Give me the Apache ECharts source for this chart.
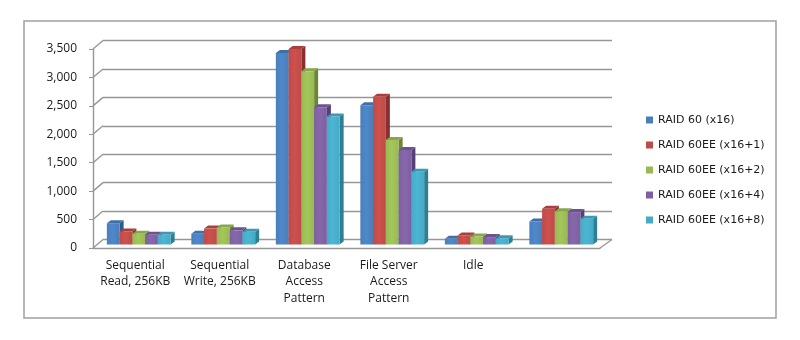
<!DOCTYPE html>
<html>
<head>
<meta charset="utf-8">
<script src="https://cdn.jsdelivr.net/npm/echarts@6/dist/echarts.min.js"></script>
<style>
  html, body { margin: 0; padding: 0; background: #ffffff; }
  #chart { width: 800px; height: 340px; }
</style>
</head>
<body>
<div id="chart"></div>
<script>
// Workload categories along the floor of the chart
const categories = [
  'Sequential\nRead, 256KB',
  'Sequential\nWrite, 256KB',
  'Database\nAccess\nPattern',
  'File Server\nAccess\nPattern',
  'Idle',
  ''
];

// One array per RAID configuration
const raid60_x16     = [375, 190, 3370, 2450, 100, 405];
const raid60ee_x16p1 = [230, 280, 3440, 2600, 160, 630];
const raid60ee_x16p2 = [190, 300, 3045, 1840, 140, 585];
const raid60ee_x16p4 = [170, 250, 2415, 1660, 130, 570];
const raid60ee_x16p8 = [170, 225, 2250, 1280, 110, 455];

const seriesNames = [
  'RAID 60 (x16)',
  'RAID 60EE (x16+1)',
  'RAID 60EE (x16+2)',
  'RAID 60EE (x16+4)',
  'RAID 60EE (x16+8)'
];
const seriesValues = [raid60_x16, raid60ee_x16p1, raid60ee_x16p2, raid60ee_x16p4, raid60ee_x16p8];

// Value axis ticks
const yTicks = [0, 500, 1000, 1500, 2000, 2500, 3000, 3500];

// Face colours: front, side (shaded), top
const faceColors = [
  { front: '#4A7EBB', side: '#2F5A8C', top: '#3F6FA8' },
  { front: '#BE4B48', side: '#8A2F2D', top: '#A8403D' },
  { front: '#98B954', side: '#6B8734', top: '#88A74A' },
  { front: '#7D60A0', side: '#553F75', top: '#6E5290' },
  { front: '#46AAC5', side: '#2C7F96', top: '#3D98B1' }
];

// 3-D look: bars sit a little behind the front edge, walls further back
const BAR_OX = 3.5, BAR_OY = -3.5;   // bar front plane offset
const DEPTH_X = 4, DEPTH_Y = -3;      // bar depth
const WALL_DX = 10, WALL_DY = -8.5;   // back wall offset (left)
const WALL_DX_R = 12;                 // back wall offset (right)
const LINE_COLOR = '#979797';
const LINE_WIDTH = 1.4;

const chart = echarts.init(document.getElementById('chart'), null, { renderer: 'canvas' });

function makeBarRenderer(k) {
  const c = faceColors[k];
  return function (params, api) {
    const idx = api.value(0);
    const val = api.value(1);
    const base = api.coord([idx, 0]);
    const topPt = api.coord([idx, val]);
    const cw = api.size([1, 0])[0];
    const bw = cw * 0.151;
    const left = base[0] - 2.5 * bw + k * bw + BAR_OX;
    const right = left + bw;
    const bottom = base[1] + BAR_OY;
    const top = topPt[1] + BAR_OY;
    return {
      type: 'group',
      children: [
        {
          type: 'polygon',
          shape: { points: [[right, top], [right + DEPTH_X, top + DEPTH_Y], [right + DEPTH_X, bottom + DEPTH_Y], [right, bottom]] },
          style: { fill: c.side }
        },
        {
          type: 'polygon',
          shape: { points: [[left, top], [right, top], [right + DEPTH_X, top + DEPTH_Y], [left + DEPTH_X, top + DEPTH_Y]] },
          style: { fill: c.top }
        },
        {
          type: 'rect',
          shape: { x: left, y: top, width: bw, height: bottom - top },
          style: {
            fill: new echarts.graphic.LinearGradient(0, 0, 1, 0, [
              { offset: 0, color: c.front },
              { offset: 0.45, color: echarts.color.lift(c.front, -0.08) },
              { offset: 1, color: c.front }
            ])
          }
        }
      ]
    };
  };
}

// Side wall stubs and floor edges, positioned from the value axis
function renderFrame(params, api) {
  const cs = params.coordSys;
  const v = api.value(1);
  const y = api.coord([0, v])[1];
  const lineStyle = { stroke: LINE_COLOR, lineWidth: LINE_WIDTH, fill: null };
  const children = [
    { type: 'line', shape: { x1: cs.x, y1: y, x2: cs.x + WALL_DX, y2: y + WALL_DY }, style: lineStyle }
  ];
  if (v === 0) {
    children.push({ type: 'line', shape: { x1: cs.x + cs.width, y1: y, x2: cs.x + cs.width + WALL_DX_R, y2: y + WALL_DY }, style: lineStyle });
  }
  return { type: 'group', children: children };
}

const series = seriesNames.map(function (name, k) {
  return {
    name: name,
    type: 'custom',
    xAxisIndex: 0,
    yAxisIndex: 0,
    renderItem: makeBarRenderer(k),
    itemStyle: { color: faceColors[k].front },
    encode: { x: 0, y: 1 },
    data: seriesValues[k].map(function (v, i) { return [i, v]; }),
    z: 3
  };
});

series.push({
  name: 'frame',
  type: 'custom',
  xAxisIndex: 0,
  yAxisIndex: 0,
  renderItem: renderFrame,
  encode: { x: 0, y: 1 },
  data: yTicks.map(function (v) { return [0, v]; }),
  silent: true,
  z: 1
});

const labelFont = 'Open Sans, Noto Sans, DejaVu Sans, sans-serif';
const legendFont = 'DejaVu Sans, Open Sans, sans-serif';

chart.setOption({
  animation: false,
  color: faceColors.map(function (c) { return c.front; }),
  graphic: [{
    type: 'rect',
    shape: { x: 24, y: 21, width: 752, height: 297 },
    style: { fill: null, stroke: '#A0A0A0', lineWidth: 1.5 },
    z: 0
  }],
  legend: {
    data: seriesNames,
    orient: 'vertical',
    left: 646,
    top: 113,
    padding: 0,
    itemWidth: 7,
    itemHeight: 7,
    itemGap: 11,
    icon: 'rect',
    textStyle: { fontSize: 11, lineHeight: 14, color: '#1a1a1a', fontFamily: legendFont }
  },
  grid: [
    { left: 93, top: 49, width: 507, height: 199 },
    { left: 93 + WALL_DX, top: 49 + WALL_DY, width: 507 + WALL_DX_R - WALL_DX, height: 199 }
  ],
  xAxis: [
    {
      gridIndex: 0,
      type: 'category',
      data: categories,
      boundaryGap: true,
      axisLine: { lineStyle: { color: LINE_COLOR, width: LINE_WIDTH } },
      axisTick: { length: 5, lineStyle: { color: LINE_COLOR } },
      axisLabel: {
        interval: 0,
        margin: 9,
        fontSize: 12,
        lineHeight: 16.5,
        color: '#1a1a1a',
        fontFamily: labelFont
      },
      splitLine: { show: false }
    },
    {
      gridIndex: 1,
      type: 'category',
      data: categories,
      show: false
    }
  ],
  yAxis: [
    {
      gridIndex: 0,
      type: 'value',
      min: 0,
      max: 3500,
      interval: 500,
      axisLine: { show: true, lineStyle: { color: LINE_COLOR, width: LINE_WIDTH } },
      axisTick: { show: true, length: 4, lineStyle: { color: LINE_COLOR } },
      axisLabel: {
        margin: 16,
        fontSize: 12,
        color: '#1a1a1a',
        fontFamily: labelFont,
        formatter: function (v) { return v.toLocaleString('en-US'); }
      },
      splitLine: { show: false }
    },
    {
      gridIndex: 1,
      type: 'value',
      min: 0,
      max: 3500,
      interval: 500,
      axisLine: { show: false },
      axisTick: { show: false },
      axisLabel: { show: false },
      splitLine: { show: true, lineStyle: { color: LINE_COLOR, width: LINE_WIDTH } }
    }
  ],
  series: series
});
</script>
</body>
</html>
